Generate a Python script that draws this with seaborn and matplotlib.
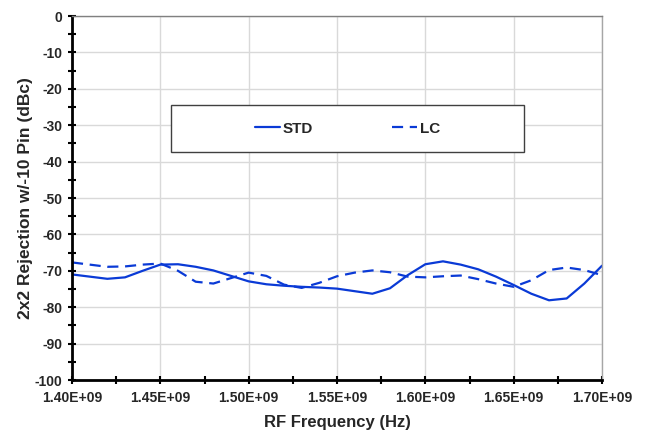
import numpy as np
import pandas as pd
import matplotlib
matplotlib.use("Agg")
import matplotlib.pyplot as plt
import seaborn as sns
from matplotlib.patches import Rectangle
from matplotlib.ticker import MultipleLocator, FuncFormatter

# frequency points (Hz)
freq_ghz = [1.40, 1.41, 1.42, 1.43, 1.44, 1.45, 1.46, 1.47, 1.48, 1.49, 1.50,
            1.51, 1.52, 1.53, 1.54, 1.55, 1.56, 1.57, 1.58, 1.59, 1.60,
            1.61, 1.62, 1.63, 1.64, 1.65, 1.66, 1.67, 1.68, 1.69, 1.70]

std_dbc = [-71.0, -71.6, -72.2, -71.8, -70.0, -68.3, -68.2, -68.9, -69.9, -71.4, -72.9,
           -73.7, -74.1, -74.4, -74.6, -74.9, -75.6, -76.3, -74.8, -71.2, -68.2,
           -67.4, -68.3, -69.6, -71.6, -73.9, -76.3, -78.1, -77.6, -73.5, -68.6]

lc_dbc = [-67.7, -68.3, -68.9, -68.8, -68.3, -68.0, -70.0, -73.0, -73.5, -72.0, -70.5,
          -71.4, -73.8, -74.7, -73.3, -71.5, -70.5, -69.9, -70.4, -71.6, -71.8,
          -71.5, -71.3, -72.3, -73.5, -74.4, -72.6, -69.8, -69.1, -69.8, -71.2]

series_names = ["STD", "LC"]

df = pd.DataFrame({
    "freq": np.array(freq_ghz * 2) * 1e9,
    "rej": std_dbc + lc_dbc,
    "series": [series_names[0]] * len(freq_ghz) + [series_names[1]] * len(freq_ghz),
})

sns.set_style("white")
plt.rcParams["font.family"] = ["Liberation Sans", "DejaVu Sans"]
plt.rcParams["font.weight"] = "bold"

blue = "#0a3ad6"

fig = plt.figure(figsize=(6.47, 4.36), dpi=100)
ax = fig.add_axes([72 / 647, 1 - 380 / 436, 530 / 647, 364 / 436])

sns.lineplot(data=df, x="freq", y="rej", hue="series", style="series",
             palette={"STD": blue, "LC": blue},
             dashes={"STD": "", "LC": (5, 3)},
             linewidth=1.6, legend=False, ax=ax)

ax.set_xlim(1.40e9, 1.70e9)
ax.set_ylim(-100, 0)
ax.xaxis.set_major_locator(MultipleLocator(0.05e9))
ax.xaxis.set_minor_locator(MultipleLocator(0.025e9))
ax.yaxis.set_major_locator(MultipleLocator(10))
ax.yaxis.set_minor_locator(MultipleLocator(5))
ax.xaxis.set_major_formatter(FuncFormatter(lambda v, p: f"{v:.2E}"))
ax.yaxis.set_major_formatter(FuncFormatter(lambda v, p: f"{v:.0f}"))

ax.grid(True, which="major", color="#d9d9d9", linewidth=1.0)
ax.set_axisbelow(True)

for side in ["left", "bottom"]:
    ax.spines[side].set_color("black")
    ax.spines[side].set_linewidth(2.0)
ax.spines["top"].set_color("#808080")
ax.spines["top"].set_linewidth(1.0)
ax.spines["right"].set_color("#a6a6a6")
ax.spines["right"].set_linewidth(1.0)

ax.tick_params(which="both", direction="inout", color="black", width=1.5,
               top=False, right=False, bottom=True, left=True)
ax.tick_params(which="major", length=6, labelsize=10)
ax.tick_params(which="minor", length=6)
ax.tick_params(axis="x", which="major", pad=5)
ax.tick_params(axis="y", which="major", pad=4)
for lab in ax.get_xticklabels() + ax.get_yticklabels():
    lab.set_fontweight("bold")

ax.set_xlabel("RF Frequency (Hz)", fontsize=12, fontweight="bold", labelpad=7)
ax.set_ylabel("2x2 Rejection w/-10 Pin (dBc)", fontsize=12.5, fontweight="bold", labelpad=1)

# legend box
ax.add_patch(Rectangle((0.187, 0.626), 0.666, 0.129, transform=ax.transAxes,
                       facecolor="white", edgecolor="#404040", linewidth=1.0, zorder=4))
handles = [plt.Line2D([], [], color=blue, lw=1.6),
           plt.Line2D([], [], color=blue, lw=1.6, dashes=(5, 3))]
leg = ax.legend(handles, series_names, loc="center", bbox_to_anchor=(0.52, 0.69),
                ncol=2, frameon=False, handlelength=1.6, handletextpad=0.2,
                columnspacing=5.2, prop={"size": 11, "weight": "bold"})
leg.set_zorder(5)

fig.savefig("out.png", dpi=100)
